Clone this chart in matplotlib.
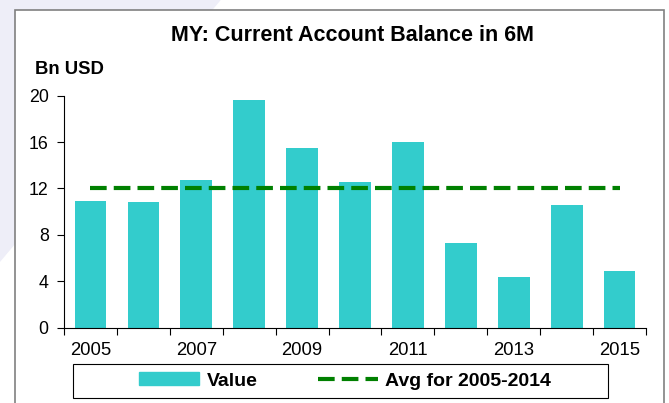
import matplotlib.pyplot as plt
from matplotlib.patches import Rectangle, Polygon
from matplotlib.lines import Line2D

plt.rcParams['font.family'] = ['Liberation Sans', 'DejaVu Sans']

years = [2005, 2006, 2007, 2008, 2009, 2010, 2011, 2012, 2013, 2014, 2015]
values = [10.9, 10.85, 12.75, 19.65, 15.5, 12.55, 16.0, 7.3, 4.35, 10.55, 4.85]
avg_2005_2014 = sum(values[:10]) / 10
tick_labels = ['2005', '2007', '2009', '2011', '2013', '2015']

W, H = 669, 403
fig = plt.figure(figsize=(W / 100, H / 100), dpi=100)

# faint background shape and the outer frame
fig.patches.append(Polygon([(0, 1), (0.33, 1), (0, 0.35)], closed=True,
                           transform=fig.transFigure, facecolor='#eeeef8',
                           edgecolor='none', zorder=0))
fig.patches.append(Rectangle((15 / W, -0.05), 649 / W, 1.05 - 10 / H,
                             transform=fig.transFigure, facecolor='white',
                             edgecolor='#808080', lw=1.2, zorder=0.5))

ax = fig.add_axes([0.0957, 0.187, 0.87, 0.5755])
ax.set_zorder(2)
x = list(range(len(years)))
dash = (0, (4, 1.7))
ax.bar(x, values, width=0.6, color='#33CCCC', zorder=2, label='Value')
ax.plot(x, [avg_2005_2014] * len(x), color='#008000', ls=dash, lw=3,
        zorder=3, label='Avg for 2005-2014')

ax.set_xlim(-0.5, len(years) - 0.5)
ax.set_ylim(0, 20)
ax.set_yticks([0, 4, 8, 12, 16, 20])
ax.set_xticks([i - 0.5 for i in range(len(years) + 1)], minor=False)
ax.set_xticklabels([])
ax.set_xticks(x[::2], minor=True)
ax.set_xticklabels(tick_labels, minor=True)
ax.tick_params(axis='x', which='minor', length=0, labelsize=13.3, pad=10.5)
ax.tick_params(axis='x', which='major', length=5, direction='out', color='black')
ax.tick_params(axis='y', length=5, labelsize=12.8, pad=6)
for s in ['top', 'right']:
    ax.spines[s].set_visible(False)
ax.patch.set_alpha(0)

fig.text(0.527, 0.913, 'MY: Current Account Balance in 6M', ha='center', va='center',
         fontsize=15.5, fontweight='bold', zorder=3)
fig.text(35 / W, 1 - 70 / H, 'Bn USD', ha='left', va='center', fontsize=13.3,
         fontweight='bold', zorder=3)

# legend box drawn by hand, entries placed inside it
fig.patches.append(Rectangle((73 / W, 1 - 398 / H), 535 / W, 34 / H,
                             transform=fig.transFigure, facecolor='white',
                             edgecolor='black', lw=0.8, zorder=2.5))
handles = [Rectangle((0, 0), 1, 1, color='#33CCCC'),
           Line2D([0], [0], color='#008000', ls=dash, lw=3)]
leg = fig.legend(handles, ['Value', 'Avg for 2005-2014'], loc='center',
                 bbox_to_anchor=(345 / W, 1 - 381 / H), ncol=2, frameon=False,
                 handlelength=3.1, handleheight=0.6, columnspacing=3.1,
                 handletextpad=0.36, prop={'weight': 'bold', 'size': 14},
                 borderpad=0.2)
leg.set_zorder(3)

fig.savefig('out.png', dpi=100)
